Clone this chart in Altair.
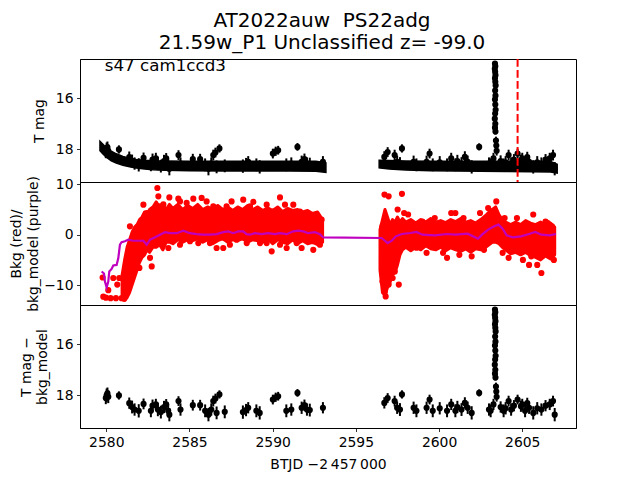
import altair as alt
import pandas as pd

# ---------------- text ----------------
TITLE_LINES = ["AT2022auw  PS22adg", "21.59w_P1 Unclassified z= -99.0"]
ANNOT = "s47 cam1ccd3"
XLABEL = "BTJD \u22122\u2009457\u2009000"
Y1_TITLE = "T mag"
Y2_TITLE = ["Bkg (red)/", "bkg_model (purple)"]
Y3_TITLE = ["T mag \u2212", "bkg_model"]

X_TICKS = [2580, 2585, 2590, 2595, 2600, 2605]
MAG_TICKS = [16, 18]
BKG_TICKS = [-10, 0, 10]
X_DOMAIN = [2578.42, 2608.23]
MAG_DOMAIN = [14.47, 19.27]
BKG_DOMAIN = [-13.95, 10.45]
DISCOVERY_T = [2604.72]

# ---------------- panel 1: dense light-curve band (envelope), two sectors ----------------
band1_t = [2579.62, 2579.8, 2580.0, 2580.3, 2580.6, 2581.0, 2581.4, 2581.8, 2582.3,
           2582.8, 2583.5, 2585.0, 2587.0, 2589.0, 2591.0, 2592.6, 2593.2]
band1_top = [17.68, 17.80, 17.93, 18.07, 18.17, 18.27, 18.34, 18.39, 18.42,
             18.44, 18.45, 18.46, 18.46, 18.46, 18.46, 18.46, 18.52]
band1_bot = [18.05, 18.18, 18.30, 18.44, 18.53, 18.62, 18.68, 18.72, 18.76,
             18.79, 18.81, 18.83, 18.84, 18.84, 18.84, 18.85, 18.90]
band2_t = [2596.4, 2597.0, 2598.0, 2599.5, 2601.0, 2602.5, 2604.0, 2605.5, 2606.7, 2607.1]
band2_top = [18.42, 18.43, 18.45, 18.46, 18.46, 18.46, 18.46, 18.46, 18.47, 18.58]
band2_bot = [18.72, 18.76, 18.80, 18.83, 18.84, 18.85, 18.86, 18.87, 18.88, 18.92]

# ---------------- detections (panels 1 & 3) ----------------
det_t = [2579.97, 2580.02, 2580.07, 2580.12, 2580.76, 2581.38, 2581.55, 2581.70, 2581.95, 2582.24,
         2582.68, 2582.78, 2582.98, 2583.10, 2583.28, 2583.47, 2583.60, 2583.72, 2583.79, 2584.34,
         2584.46, 2585.20, 2585.64, 2585.94, 2586.14, 2586.31, 2586.43, 2586.56, 2586.63, 2586.80,
         2587.12, 2588.21, 2588.40, 2588.53, 2589.02, 2589.22, 2590.01, 2590.18, 2590.33, 2590.82,
         2591.12, 2591.49, 2591.74, 2591.91, 2592.06, 2592.23, 2593.02,
         2596.71, 2596.91, 2597.33, 2597.48, 2597.65, 2597.77, 2598.47, 2598.64, 2599.25, 2599.43,
         2599.62, 2600.04, 2600.48, 2600.73, 2600.98, 2601.10, 2601.35, 2601.55, 2601.72, 2601.96,
         2602.41, 2603.10, 2603.27,
         2603.36, 2603.38, 2603.35, 2603.37, 2603.39, 2603.36, 2603.38, 2603.40, 2603.37, 2603.39,
         2603.36, 2603.38, 2603.40, 2603.37, 2603.35, 2603.38, 2603.36, 2603.39, 2603.42, 2603.44,
         2603.46,
         2603.88, 2604.18, 2604.33, 2604.72, 2604.92, 2605.17, 2605.41, 2605.66, 2606.15, 2606.65,
         2606.85, 2606.95, 2603.00, 2603.70, 2604.00, 2604.50, 2605.00, 2605.30, 2605.90, 2606.40]
det_mag = [18.10, 18.00, 17.92, 18.05, 18.00, 18.30, 18.45, 18.55, 18.60, 18.33,
           18.60, 18.40, 18.35, 18.55, 18.65, 18.45, 18.35, 18.60, 18.75, 18.22,
           18.55, 18.38, 18.38, 18.60, 18.75, 18.55, 18.22, 18.12, 18.68, 17.96,
           18.64, 18.65, 18.57, 18.48, 18.60, 18.68, 18.16, 18.07, 18.03, 18.60,
           18.55, 17.90, 18.48, 18.38, 18.55, 18.57, 18.48,
           18.29, 18.10, 18.22, 18.48, 18.55, 17.96, 18.48, 18.60, 18.48, 18.16,
           18.60, 18.50, 18.60, 18.35, 18.60, 18.45, 18.55, 18.29, 18.48, 18.68,
           17.90, 18.60, 18.35,
           14.65, 14.75, 14.85, 14.97, 15.10, 15.22, 15.36, 15.50, 15.70, 15.90,
           16.05, 16.25, 16.45, 16.60, 16.80, 17.00, 17.15, 17.30, 17.65, 17.85,
           18.05,
           18.60, 18.22, 18.55, 18.16, 18.42, 18.60, 18.48, 18.68, 18.55, 18.35,
           18.22, 18.75, 18.55, 18.45, 18.50, 18.40, 18.35, 18.30, 18.50, 18.40]
det_err = [0.24, 0.27, 0.23, 0.25, 0.16, 0.22, 0.25, 0.24, 0.26, 0.21,
           0.25, 0.24, 0.22, 0.26, 0.25, 0.24, 0.21, 0.25, 0.26, 0.19,
           0.24, 0.21, 0.21, 0.25, 0.26, 0.24, 0.21, 0.19, 0.25, 0.16,
           0.25, 0.26, 0.24, 0.22, 0.25, 0.26, 0.19, 0.18, 0.17, 0.25,
           0.24, 0.15, 0.24, 0.22, 0.24, 0.25, 0.22,
           0.22, 0.19, 0.21, 0.24, 0.25, 0.16, 0.24, 0.25, 0.24, 0.19,
           0.25, 0.24, 0.25, 0.22, 0.25, 0.24, 0.25, 0.22, 0.24, 0.26,
           0.14, 0.25, 0.22,
           0.04, 0.04, 0.04, 0.04, 0.04, 0.05, 0.05, 0.05, 0.05, 0.06,
           0.06, 0.07, 0.08, 0.08, 0.09, 0.10, 0.11, 0.12, 0.15, 0.17,
           0.19,
           0.25, 0.21, 0.24, 0.19, 0.22, 0.25, 0.24, 0.26, 0.24, 0.22,
           0.21, 0.26, 0.24, 0.22, 0.24, 0.22, 0.22, 0.21, 0.24, 0.22]

# ---------------- panel 2: background flux, dense core envelope per sector ----------------
core1_t = [2580.95, 2581.1, 2581.25, 2581.4, 2581.55, 2581.7, 2581.85, 2582.0, 2582.15, 2582.3,
           2582.45, 2582.6, 2582.8, 2583.0, 2583.2, 2583.4, 2583.6, 2583.8, 2584.0, 2584.3,
           2584.6, 2584.9, 2585.2, 2585.5, 2585.8, 2586.1, 2586.4, 2586.7, 2587.0, 2587.3,
           2587.6, 2587.9, 2588.2, 2588.5, 2588.8, 2589.1, 2589.4, 2589.7, 2590.0, 2590.3,
           2590.6, 2590.9, 2591.2, 2591.5, 2591.8, 2592.1, 2592.4, 2592.7, 2593.0]
core1_up = [-8.0, -5.0, -2.5, -1.0, 0.5, 1.5, 2.0, 3.0, 3.5, 4.5,
            4.0, 5.0, 5.5, 6.5, 5.5, 6.0, 5.0, 6.0, 5.2, 6.0,
            5.0, 5.8, 5.2, 6.0, 5.0, 5.5, 5.0, 5.8, 5.0, 5.5,
            4.8, 5.5, 5.0, 5.8, 5.0, 5.5, 4.8, 5.3, 4.8, 5.5,
            4.6, 5.2, 4.8, 5.0, 4.5, 4.8, 4.2, 4.5, 3.0]
core1_low = [-12.8, -13.0, -12.5, -11.5, -10.0, -8.5, -7.0, -5.5, -4.5, -4.0,
             -3.0, -3.5, -2.5, -2.5, -2.0, -3.0, -1.5, -1.5, -1.8, -1.0,
             -1.5, -1.0, -1.2, -0.8, -1.5, -1.0, -1.8, -1.2, -0.8, -1.5,
             -1.0, -1.2, -0.8, -1.5, -1.0, -1.2, -1.5, -0.8, -1.8, -1.0,
             -1.5, -1.8, -1.0, -1.8, -1.2, -1.8, -1.5, -2.0, -1.5]
core2_t = [2596.45, 2596.6, 2596.75, 2596.9, 2597.05, 2597.2, 2597.35, 2597.5, 2597.65, 2597.8,
           2598.0, 2598.3, 2598.6, 2598.9, 2599.2, 2599.5, 2599.8, 2600.1, 2600.4, 2600.7,
           2601.0, 2601.3, 2601.6, 2601.9, 2602.2, 2602.5, 2602.8, 2603.0, 2603.2, 2603.4,
           2603.6, 2603.8, 2604.0, 2604.3, 2604.6, 2604.9, 2605.2, 2605.5, 2605.8, 2606.1,
           2606.4, 2606.7, 2606.95]
core2_up = [1.0, 3.0, 5.0, 3.5, 2.0, 3.0, 2.5, 3.5, 2.5, 3.2,
            2.5, 3.0, 2.3, 3.0, 2.5, 3.2, 2.5, 2.8, 2.4, 3.0,
            2.6, 3.2, 2.5, 2.8, 2.3, 3.0, 3.8, 4.5, 5.0, 5.5,
            4.0, 3.0, 2.5, 2.0, 2.5, 2.0, 2.8, 2.3, 2.0, 2.5,
            2.0, 2.3, 1.5]
core2_low = [-7.0, -11.5, -12.0, -10.5, -9.5, -8.0, -7.5, -6.0, -4.0, -3.0,
             -2.5, -3.2, -2.5, -3.0, -2.2, -2.8, -3.0, -2.5, -3.2, -2.6,
             -3.0, -3.3, -2.8, -3.5, -2.8, -3.0, -2.5, -2.0, -1.5, -1.5,
             -1.8, -2.5, -3.0, -3.8, -3.5, -4.0, -3.5, -4.2, -4.5, -5.0,
             -4.2, -4.8, -4.0]

# individual background points outside the dense core
bkg_t = [2579.78, 2579.82, 2579.98, 2580.12, 2580.26, 2580.42, 2580.58, 2580.66, 2580.78, 2580.92,
         2581.08, 2581.22, 2581.32, 2581.42, 2581.52, 2581.73, 2581.99, 2582.13, 2582.23, 2582.43,
         2582.73, 2582.63, 2583.07, 2583.13, 2583.23, 2583.73, 2583.79, 2584.33, 2584.83, 2585.23,
         2585.53, 2585.73, 2586.43, 2586.63, 2587.03, 2587.23, 2587.83, 2588.23, 2588.84, 2589.24,
         2589.64, 2589.94, 2590.44, 2590.74, 2590.84, 2591.24, 2591.74, 2592.04, 2592.44, 2592.54,
         2592.84, 2592.94, 2583.43, 2584.13, 2584.43, 2586.03, 2587.53, 2588.64, 2590.04, 2591.64,
         2583.63, 2584.43, 2585.03, 2586.23, 2587.43, 2588.44, 2589.64, 2590.44, 2591.44, 2592.44,
         2596.72, 2596.97, 2597.77, 2596.60, 2596.72, 2596.79, 2596.97, 2597.21, 2597.34, 2597.51,
         2597.58, 2597.90, 2598.14, 2599.50, 2600.73, 2601.22, 2602.70, 2603.44, 2603.20, 2603.94,
         2604.18, 2604.68, 2605.41, 2605.54, 2606.15, 2606.53, 2606.78, 2606.90, 2599.74, 2600.24,
         2601.96, 2601.47, 2598.64, 2598.27, 2599.00, 2600.98, 2602.46, 2602.95, 2605.66, 2606.40,
         2605.90, 2605.04, 2603.82, 2600.48, 2599.25, 2597.21, 2596.91, 2596.60, 2596.74]
bkg_v = [-8.5, -12.3, -12.5, -11.0, -12.6, -8.6, -12.6, -9.9, -8.6, -12.6,
         -12.7, -10.6, -8.6, 1.65, -5.97, -6.96, -6.6, 2.64, 5.95, 4.3,
         -6.3, -4.6, 9.26, 7.6, 5.6, -2.65, 7.4, 7.15, 6.3, 7.15,
         -1.66, 7.3, 5.6, -2.65, -2.65, 5.6, -1.0, 6.95, 6.5, -1.66,
         5.95, -3.3, 7.4, 5.95, -2.65, 5.95, -2.65, 4.3, -3.0, 3.3,
         -2.0, 2.97, 6.0, 4.6, 6.6, 6.6, 6.6, 5.6, 4.6, 4.6,
         -1.0, -2.0, -1.3, -1.66, -2.0, -1.66, -1.66, -2.0, -1.66, -1.3,
         7.95, 7.6, 8.1, 1.66, -6.6, -12.25, -9.9, -8.6, -7.3, 5.0,
         -9.9, 4.3, 4.0, -1.3, 4.3, -4.0, -3.0, 6.6, 4.6, 3.3,
         -4.6, 3.3, -6.0, -4.3, -7.6, 2.3, 1.66, -5.0, 3.3, -3.6,
         -4.3, 3.3, -2.6, -2.0, 2.6, 4.3, 4.3, 5.3, 4.0, 2.6,
         -6.0, -5.0, -3.6, -4.6, -3.6, 1.3, -4.0, -9.3, -11.3]

model_t = [2579.72, 2579.86, 2579.92, 2580.02, 2580.12, 2580.18, 2580.32, 2580.42, 2580.62, 2580.72,
           2580.82, 2580.92, 2581.12, 2581.32, 2581.62, 2581.93, 2582.23, 2582.43, 2582.63, 2582.93,
           2583.23, 2583.53, 2583.83, 2584.23, 2584.63, 2585.03, 2585.43, 2585.83, 2586.23, 2586.63,
           2587.03, 2587.33, 2587.63, 2587.93, 2588.23, 2588.43, 2588.63, 2588.93, 2589.33, 2589.73,
           2590.14, 2590.44, 2590.84, 2591.24, 2591.54, 2591.84, 2592.14, 2592.54, 2592.84, 2593.04,
           2596.55, 2596.91, 2597.16, 2597.40, 2597.77, 2598.27, 2598.64, 2599.00, 2599.74, 2600.48,
           2600.98, 2601.72, 2602.34, 2602.58, 2602.95, 2603.32, 2603.57, 2603.82, 2604.06, 2604.43,
           2604.92, 2605.41, 2605.78, 2606.15, 2606.65, 2607.02]
model_v = [-7.3, -7.7, -9.3, -10.5, -9.3, -7.3, -6.8, -6.1, -6.0, -4.7,
           -2.0, -1.5, -1.3, -1.0, -1.2, -1.2, -1.2, -2.0, -1.0, -0.5,
           0.0, 0.5, 0.3, 0.3, 0.8, 0.3, 0.1, 0.0, 0.0, 0.1,
           0.5, 0.66, 0.3, 0.66, 0.66, 0.1, 0.0, 0.3, 0.1, 0.3,
           0.1, 0.3, 0.1, 0.66, 0.8, 0.66, 0.3, 0.5, 0.1, -0.55,
           -0.66, -1.66, -1.19, -0.33, 0.13, 0.33, 0.53, 0.0, -0.13, 0.13,
           0.0, 0.2, -0.8, 0.0, 1.0, 1.66, 1.99, 1.19, -0.13, -0.53,
           -0.33, 0.13, 0.53, 0.0, -0.13, 0.13]

# ---------------- tables ----------------
band_df = pd.concat([
    pd.DataFrame({"seg": "s1", "t": band1_t, "top": band1_top, "bot": band1_bot}),
    pd.DataFrame({"seg": "s2", "t": band2_t, "top": band2_top, "bot": band2_bot}),
])
det_df = pd.DataFrame({"t": det_t, "mag": det_mag, "err": det_err})
det_df["lo"] = det_df["mag"] - det_df["err"]
det_df["hi"] = det_df["mag"] + det_df["err"]
core_df = pd.concat([
    pd.DataFrame({"seg": "s1", "t": core1_t, "up": core1_up, "low": core1_low}),
    pd.DataFrame({"seg": "s2", "t": core2_t, "up": core2_up, "low": core2_low}),
])
bkg_df = pd.DataFrame({"t": bkg_t, "v": bkg_v})
model_df = pd.DataFrame({"t": model_t, "v": model_v})
vline_df = pd.DataFrame({"t": DISCOVERY_T})
one_df = pd.DataFrame({"k": [0]})

FONT = "DejaVu Sans"
FS = 13.9
W, H = 496, 123

xscale = alt.Scale(domain=X_DOMAIN, nice=False, zero=False)
magscale = alt.Scale(domain=MAG_DOMAIN, reverse=True, nice=False, zero=False)
bkgscale = alt.Scale(domain=BKG_DOMAIN, nice=False, zero=False)


def yaxis(values, title, tx):
    return alt.Axis(values=values, title=title, format="d", grid=False,
                    titleX=tx, titleY=H / 2, titleAngle=270, titleAlign="center",
                    titleBaseline="middle", titleLineHeight=16.7, titleFontSize=FS,
                    titleFontWeight="normal", labelFontSize=FS, tickSize=3.5,
                    labelPadding=3.5, tickWidth=0.8, domainWidth=0.8)


xaxis_bottom = alt.Axis(values=X_TICKS, format="d", title=XLABEL, grid=False,
                        labelFontSize=FS, titleFontSize=FS, titleFontWeight="normal",
                        tickSize=3.5, labelPadding=3.5, tickWidth=0.8, domainWidth=0.8,
                        titleY=36, titleBaseline="middle")

ax1 = yaxis(MAG_TICKS, Y1_TITLE, -41)
ax2 = yaxis(BKG_TICKS, Y2_TITLE, -63.5)
ax3 = yaxis(MAG_TICKS, Y3_TITLE, -54)

# SVG collapses runs of spaces; keep the double space visible
title_render = [s.replace("  ", " \u00a0") for s in TITLE_LINES]

# ---------------- panel 1 ----------------
p1_band = alt.Chart(band_df).mark_area(color="black", stroke="black", strokeWidth=1.5,
                                        opacity=1, clip=True).encode(
    x=alt.X("t:Q", scale=xscale, axis=None),
    y=alt.Y("top:Q", scale=magscale, axis=ax1),
    y2="bot:Q",
    detail="seg:N",
)
p1_err = alt.Chart(det_df).mark_rule(color="black", strokeWidth=2, clip=True).encode(
    x=alt.X("t:Q", scale=xscale, axis=None),
    y=alt.Y("lo:Q", scale=magscale, axis=ax1),
    y2="hi:Q",
)
p1_pts = alt.Chart(det_df).mark_circle(color="black", size=38, opacity=1, clip=True).encode(
    x=alt.X("t:Q", scale=xscale, axis=None),
    y=alt.Y("mag:Q", scale=magscale, axis=ax1),
)
p1_vline = alt.Chart(vline_df).mark_rule(color="red", strokeWidth=2,
                                          strokeDash=[7.7, 3.3]).encode(
    x=alt.X("t:Q", scale=xscale, axis=None),
)
p1_annot = alt.Chart(one_df).mark_text(text=ANNOT, font=FONT, fontSize=16.7, align="left",
                                        baseline="alphabetic", color="black").encode(
    x=alt.value(24.8), y=alt.value(12))
p1_t1 = alt.Chart(one_df).mark_text(text=title_render[0], font=FONT, fontSize=20,
                                     align="center", baseline="middle", color="black").encode(
    x=alt.value(242), y=alt.value(-38))
p1_t2 = alt.Chart(one_df).mark_text(text=title_render[1], font=FONT, fontSize=20,
                                     align="center", baseline="middle", color="black").encode(
    x=alt.value(242), y=alt.value(-16))

panel1 = alt.layer(p1_band, p1_err, p1_pts, p1_vline, p1_annot, p1_t1, p1_t2).properties(
    width=W, height=H)

# ---------------- panel 2 ----------------
p2_core = alt.Chart(core_df).mark_area(color="red", stroke="red", strokeWidth=3,
                                        strokeJoin="round", opacity=1, clip=True).encode(
    x=alt.X("t:Q", scale=xscale, axis=None),
    y=alt.Y("up:Q", scale=bkgscale, axis=ax2),
    y2="low:Q",
    detail="seg:N",
)
p2_pts = alt.Chart(bkg_df).mark_circle(color="red", size=38, opacity=1, clip=True).encode(
    x=alt.X("t:Q", scale=xscale, axis=None),
    y=alt.Y("v:Q", scale=bkgscale, axis=ax2),
)
p2_line = alt.Chart(model_df).mark_line(color="#bf00bf", strokeWidth=2.2, clip=True).encode(
    x=alt.X("t:Q", scale=xscale, axis=None),
    y=alt.Y("v:Q", scale=bkgscale, axis=ax2),
)
panel2 = alt.layer(p2_core, p2_pts, p2_line).properties(width=W, height=H)

# ---------------- panel 3 ----------------
p3_err = alt.Chart(det_df).mark_rule(color="black", strokeWidth=2, clip=True).encode(
    x=alt.X("t:Q", scale=xscale, axis=xaxis_bottom),
    y=alt.Y("lo:Q", scale=magscale, axis=ax3),
    y2="hi:Q",
)
p3_pts = alt.Chart(det_df).mark_circle(color="black", size=38, opacity=1, clip=True).encode(
    x=alt.X("t:Q", scale=xscale, axis=xaxis_bottom),
    y=alt.Y("mag:Q", scale=magscale, axis=ax3),
)
panel3 = alt.layer(p3_err, p3_pts).properties(width=W, height=H)

chart = alt.vconcat(panel1, panel2, panel3, spacing=0, bounds="flush").properties(
    padding={"left": 0, "top": 2, "right": 5, "bottom": 5}
).configure(font=FONT).configure_view(
    stroke="black", strokeWidth=1
).configure_axis(
    domainColor="black", tickColor="black", labelColor="black", titleColor="black",
    labelFont=FONT, titleFont=FONT
)

chart.save("out.html", embed_options={"renderer": "svg", "actions": False})
